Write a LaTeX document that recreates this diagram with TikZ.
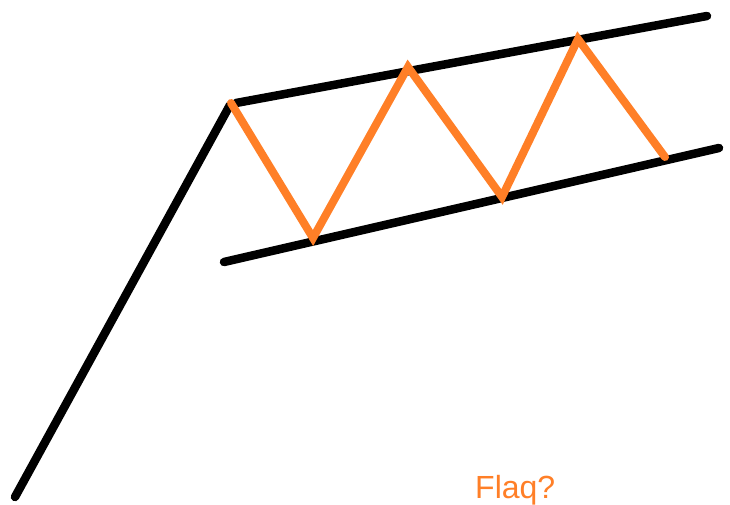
\documentclass[tikz,border=0pt]{standalone}
\usepackage{fontspec}
\setmainfont{Liberation Sans}
\definecolor{flagorange}{RGB}{255,127,39}
\begin{document}
\begin{tikzpicture}[x=1pt,y=-1pt,
  blackline/.style={draw=black,line width=8.5pt,line cap=round},
  orangeline/.style={draw=flagorange,line width=8pt,line cap=round,line join=miter},
  labeltext/.style={text=flagorange,font=\fontsize{32}{36}\selectfont,inner sep=0pt,anchor=base west}]
\useasboundingbox[fill=white] (0,0) rectangle (730,505);
\coordinate (poleA) at (15,497);
\coordinate (poleB) at (230,105);
\coordinate (upA) at (236,103);
\coordinate (upB) at (707,16);
\coordinate (loA) at (224,262);
\coordinate (loB) at (719,148);
\coordinate (z0) at (231,103);
\coordinate (z1) at (313,238);
\coordinate (z2) at (408,67);
\coordinate (z3) at (502,197);
\coordinate (z4) at (578,39);
\coordinate (z5) at (665,157);
\draw[blackline] (poleA) -- (poleB);
\draw[blackline] (upA) -- (upB);
\draw[blackline] (loA) -- (loB);
\draw[orangeline] (z0) -- (z1) -- (z2) -- (z3) -- (z4) -- (z5);
\node[labeltext] (label) at (475,498) {Flaq?};
\end{tikzpicture}
\end{document}
